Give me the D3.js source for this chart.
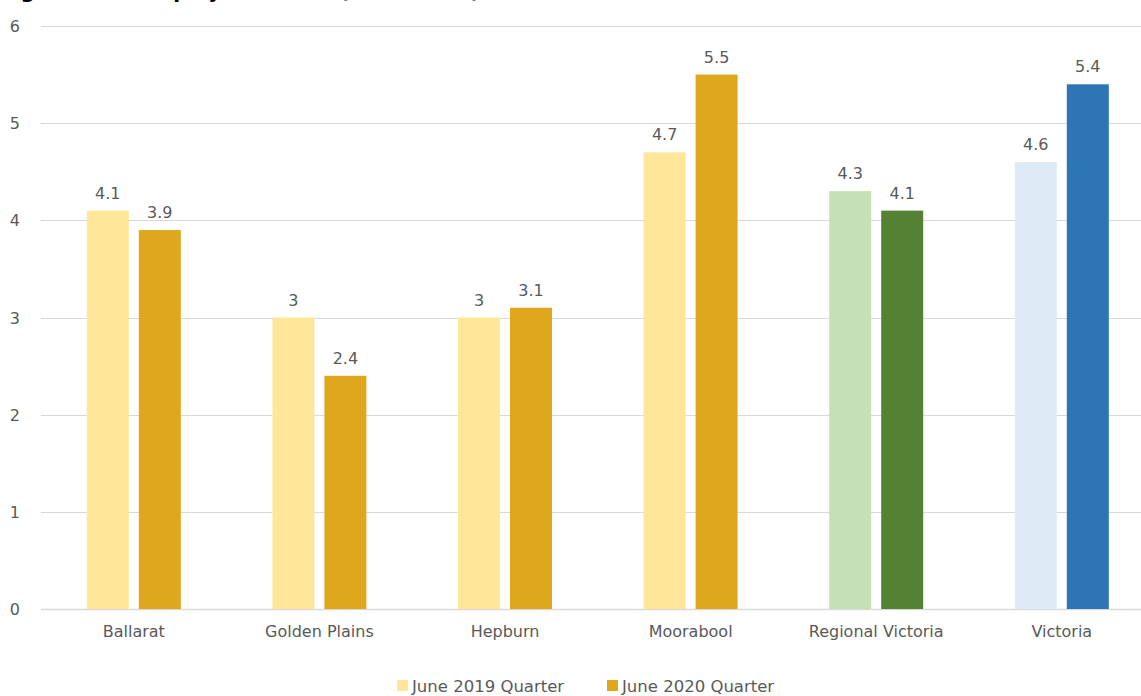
<!DOCTYPE html>
<html>
<head>
<meta charset="utf-8">
<script src="https://cdn.jsdelivr.net/npm/d3@7"></script>
<style>
  html, body { margin: 0; padding: 0; background: #fff; overflow: hidden; }
  svg { display: block; font-family: "DejaVu Sans", "Open Sans", sans-serif; }
</style>
</head>
<body>
<svg id="chart" width="1141" height="696"></svg>
<script>
// Unemployment rate by area, two June quarters
const categories = ["Ballarat", "Golden Plains", "Hepburn", "Moorabool", "Regional Victoria", "Victoria"];
const seriesNames = ["June 2019 Quarter", "June 2020 Quarter"];
const june2019 = [4.1, 3.0, 3.0, 4.7, 4.3, 4.6];
const june2020 = [3.9, 2.4, 3.1, 5.5, 4.1, 5.4];
const yTicks = [0, 1, 2, 3, 4, 5, 6];

// Bar fills: [light, dark] per area
const palette = [
  ["#FFE699", "#DFA71B"],
  ["#FFE699", "#DFA71B"],
  ["#FFE699", "#DFA71B"],
  ["#FFE699", "#DFA71B"],
  ["#C5E0B4", "#548235"],
  ["#DEEBF7", "#2E75B6"]
];

const svg = d3.select("#chart");
const textColor = "#595959";
const fontFamily = "\"DejaVu Sans\", sans-serif";

const plot = { left: 41, right: 41 + 6 * 185.6, top: 26, bottom: 609 };

const x0 = d3.scaleBand().domain(categories).range([plot.left, plot.right]).paddingInner(0).paddingOuter(0);
const x1 = d3.scaleBand().domain([0, 1]).range([-47, 47]).paddingInner(2 - 94 / 52).paddingOuter(0);
const y = d3.scaleLinear().domain([0, 6]).range([plot.bottom, plot.top]);

// Title (sits mostly above the visible area)
svg.append("text")
  .attr("x", 0).attr("y", -2)
  .attr("font-size", 20).attr("font-weight", "bold").attr("fill", "#000")
  .text("Figure 4: Unemployment rate (Small Area)");

// Gridlines
svg.append("g")
  .selectAll("line")
  .data(yTicks)
  .join("line")
  .attr("x1", plot.left).attr("x2", 1141)
  .attr("y1", d => Math.round(y(d)) + 0.5).attr("y2", d => Math.round(y(d)) + 0.5)
  .attr("stroke", "#D9D9D9")
  .attr("stroke-width", d => d === 0 ? 1.5 : 1);

// Y axis labels
const yAxis = d3.axisLeft(y).tickValues(yTicks).tickSize(0).tickPadding(0).tickFormat(d3.format("d"));
const yg = svg.append("g").attr("transform", `translate(20,0)`).call(yAxis);
yg.select(".domain").remove();
yg.selectAll("text").attr("font-size", 16).attr("fill", textColor)
  .attr("font-family", fontFamily).attr("dy", "0.35em");

// X axis labels
const xAxis = d3.axisBottom(x0).tickSize(0).tickPadding(0);
const xg = svg.append("g").attr("transform", `translate(0,${plot.bottom + 17})`).call(xAxis);
xg.select(".domain").remove();
xg.selectAll("text").attr("font-size", 16).attr("fill", textColor)
  .attr("font-family", fontFamily).attr("dy", "0.71em");

// Bars and value labels
const rows = categories.map((c, i) => ({ cat: c, idx: i, vals: [june2019[i], june2020[i]] }));
const groups = svg.append("g").selectAll("g")
  .data(rows)
  .join("g")
  .attr("transform", d => `translate(${x0(d.cat) + x0.bandwidth() / 2},0)`);

groups.selectAll("rect")
  .data(d => d.vals.map((v, s) => ({ v, s, idx: d.idx })))
  .join("rect")
  .attr("x", d => x1(d.s))
  .attr("width", x1.bandwidth())
  .attr("y", d => y(d.v))
  .attr("height", d => y(0) - y(d.v))
  .attr("fill", d => palette[d.idx][d.s]);

groups.selectAll("text.val")
  .data(d => d.vals.map((v, s) => ({ v, s })))
  .join("text")
  .attr("class", "val")
  .attr("x", d => x1(d.s) + x1.bandwidth() / 2)
  .attr("y", d => y(d.v) - 12)
  .attr("text-anchor", "middle")
  .attr("font-size", 16)
  .attr("font-family", fontFamily)
  .attr("fill", textColor)
  .text(d => d3.format("~g")(d.v));

// Legend
const legendItems = [
  { name: seriesNames[0], color: palette[0][0], x: 397 },
  { name: seriesNames[1], color: palette[0][1], x: 607 }
];
const lg = svg.append("g").selectAll("g").data(legendItems).join("g")
  .attr("transform", d => `translate(${d.x},680)`);
lg.append("rect").attr("width", 11).attr("height", 11).attr("fill", d => d.color);
lg.append("text").attr("x", 15).attr("y", 12).attr("font-size", 16.5)
  .attr("font-family", fontFamily).attr("fill", textColor).text(d => d.name);
</script>
</body>
</html>
